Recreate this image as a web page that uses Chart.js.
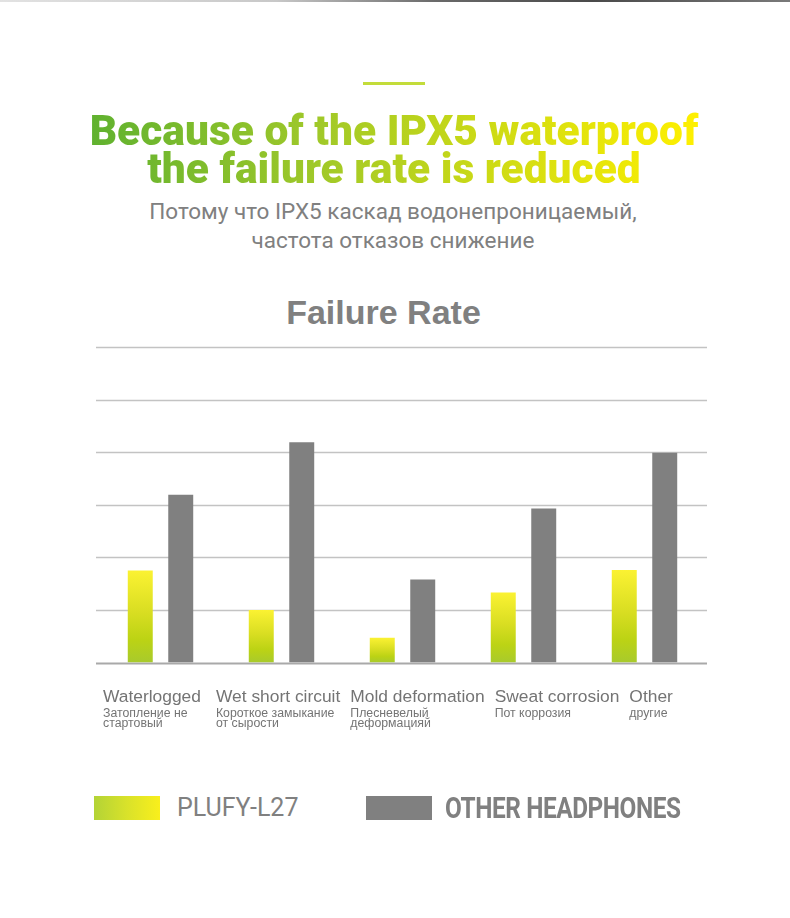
<!DOCTYPE html>
<html>
<head>
<meta charset="utf-8">
<script src="https://cdn.jsdelivr.net/npm/chart.js@4"></script>
<style>
  html, body { margin: 0; padding: 0; background: #fff; }
  body { width: 790px; height: 918px; position: relative; overflow: hidden; }
  .topline { position: absolute; left: 0; top: 0; width: 790px; height: 2px;
    background: linear-gradient(to right, #e2e2e2 0%, #c8c8c8 35%, #6a6a6a 55%, #4a4a4a 75%, #7a7a7a 100%); }
  .accent { position: absolute; left: 363px; top: 82px; width: 62px; height: 3px; background: #c3dc3a; }
  .title { position: absolute; left: 88px; top: 112px; width: 612px; text-align: center;
    font-family: Roboto, "Liberation Sans", sans-serif; font-weight: 900; font-size: 42.5px; line-height: 38px;
    background: linear-gradient(to right, #5fb12f 0%, #9cc72a 35%, #d4dd12 70%, #fff000 100%);
    -webkit-background-clip: text; background-clip: text; color: transparent; }
  .subtitle { position: absolute; left: 0; top: 197px; width: 786px; text-align: center;
    font-family: Roboto, sans-serif; font-size: 22.5px; line-height: 29px; color: #808080; }
  .charttitle { position: absolute; left: 0; top: 293px; width: 767px; text-align: center;
    font-family: "Liberation Sans", Arial, sans-serif; font-weight: bold; font-size: 34px; color: #808080; }
  #wrap { position: absolute; left: 0; top: 290px; width: 790px; height: 460px; }
  .legend { position: absolute; left: 0; top: 796px; width: 790px; height: 26px; }
  .legend .box { position: absolute; top: 0; width: 66px; height: 24px; }
  .legend .txt { position: absolute; top: -3px; font-family: Roboto, sans-serif; font-size: 25px; line-height: 30px; color: #808080; white-space: nowrap; }
</style>
</head>
<body>
<div class="topline"></div>
<div class="accent"></div>
<div class="title">Because of the IPX5 waterproof<br>the failure rate is reduced</div>
<div class="subtitle">Потому что IPX5 каскад водонепроницаемый,<br>частота отказов снижение</div>
<div class="charttitle">Failure Rate</div>
<div id="wrap"><canvas id="myChart"></canvas></div>
<div class="legend" id="legend"></div>
<script>
const categories = ['Waterlogged', 'Wet short circuit', 'Mold deformation', 'Sweat corrosion', 'Other'];
const categoriesRu = [['Затопление не', 'стартовый'], ['Короткое замыкание', 'от сырости'], ['Плесневелый', 'деформацияй'], ['Пот коррозия'], ['другие']];
const seriesNames = ['PLUFY-L27', 'OTHER HEADPHONES'];
const plufyValues = [1.75, 1.0, 0.47, 1.33, 1.76];
const otherValues = [3.19, 4.19, 1.58, 2.93, 3.99];
const yMax = 6;
const yStep = 1;

// yellow -> green gradient for each bar, from its top down to the baseline
function barGradient(context) {
    const chart = context.chart;
    if (!chart.chartArea) return '#d8df28';
    const y = chart.scales.y;
    const top = y.getPixelForValue(context.raw);
    const bottom = y.getPixelForValue(0);
    const g = chart.ctx.createLinearGradient(0, top, 0, bottom);
    g.addColorStop(0, '#fbf232');
    g.addColorStop(0.45, '#d9de22');
    g.addColorStop(0.75, '#bcd314');
    g.addColorStop(1, '#a8ca2c');
    return g;
}

// grid lines a bit wider than the bar area, as in the picture
const gridLines = {
    id: 'gridLines',
    beforeDatasetsDraw(chart) {
        const ctx = chart.ctx;
        const area = chart.chartArea;
        const y = chart.scales.y;
        ctx.save();
        y.ticks.forEach(function (t) {
            const py = Math.round(y.getPixelForValue(t.value)) + 0.5;
            ctx.beginPath();
            ctx.strokeStyle = t.value === 0 ? '#a9a9a9' : '#c3c3c3';
            ctx.lineWidth = t.value === 0 ? 2 : 1.5;
            ctx.moveTo(area.left - 4, py);
            ctx.lineTo(area.right + 2, py);
            ctx.stroke();
        });
        ctx.restore();
    }
};

// category names: english line + small russian lines, flowed left to right
const categoryLabels = {
    id: 'categoryLabels',
    afterDraw(chart) {
        const ctx = chart.ctx;
        const area = chart.chartArea;
        let x = area.left + 3;
        const base = area.bottom + 39;
        ctx.save();
        ctx.fillStyle = '#747474';
        ctx.textBaseline = 'alphabetic';
        categories.forEach(function (name, i) {
            ctx.font = '17.4px "Liberation Sans", Arial, sans-serif';
            let w = ctx.measureText(name).width;
            ctx.fillText(name, x, base);
            ctx.font = '12.3px "Liberation Sans", Arial, sans-serif';
            categoriesRu[i].forEach(function (line, j) {
                ctx.fillText(line, x, base + 15 + j * 10.5);
                w = Math.max(w, ctx.measureText(line).width);
            });
            x += w + (i === 0 ? 15 : 10);
        });
        ctx.restore();
    }
};

const ctx = document.getElementById('myChart').getContext('2d');
const myChart = new Chart(ctx, {
    type: 'bar',
    data: {
        labels: categories,
        datasets: [
            {
                label: seriesNames[0],
                data: plufyValues,
                backgroundColor: barGradient,
                borderWidth: 0,
            },
            {
                label: seriesNames[1],
                data: otherValues,
                backgroundColor: '#808080',
                borderWidth: 0,
            }
        ]
    },
    options: {
        responsive: true,
        maintainAspectRatio: false,
        animation: false,
        categoryPercentage: 0.669,
        barPercentage: 0.617,
        layout: { padding: { left: 100, right: 85, top: 57, bottom: 87.5 } },
        plugins: {
            legend: { display: false },
            tooltip: { enabled: false },
            title: { display: false }
        },
        scales: {
            x: { display: false },
            y: {
                display: false,
                min: 0,
                max: yMax,
                ticks: { stepSize: yStep }
            }
        }
    },
    plugins: [gridLines, categoryLabels]
});

// legend built from the dataset names
const legend = document.getElementById('legend');
const legendItems = [
    { box: 94, text: 177, fill: 'linear-gradient(to right, #b3d336, #d9e22a 50%, #f9ef1c)', style: 'font-weight:400;' },
    { box: 366, text: 445, fill: '#808080', style: 'font-weight:700;font-size:29px;transform:scaleX(0.84);transform-origin:left center;letter-spacing:-0.5px;' }
];
myChart.data.datasets.forEach(function (ds, i) {
    const it = legendItems[i];
    legend.innerHTML += '<div class="box" style="left:' + it.box + 'px;background:' + it.fill + '"></div>' +
        '<div class="txt" style="left:' + it.text + 'px;' + it.style + '">' + ds.label + '</div>';
});
</script>
</body>
</html>
